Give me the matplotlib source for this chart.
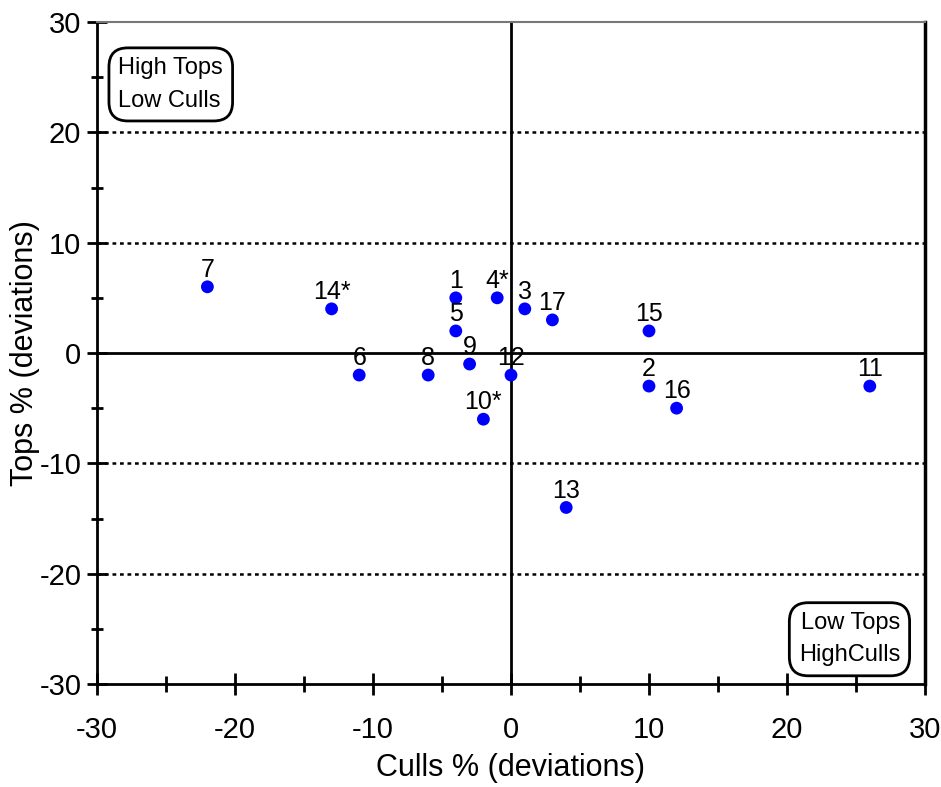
import matplotlib
matplotlib.use("Agg")
from matplotlib import pyplot as plt
from matplotlib.ticker import MultipleLocator

plt.rcParams['font.family'] = ['Liberation Sans', 'DejaVu Sans']
plt.rcParams['axes.unicode_minus'] = False

# Data
labels = ["1", "2", "3", "4*", "5", "6", "7", "8", "9", "10*",
          "11", "12", "13", "14*", "15", "16", "17"]
culls = [-4, 10, 1, -1, -4, -11, -22, -6, -3, -2, 26, 0, 4, -13, 10, 12, 3]
tops = [5, -3, 4, 5, 2, -2, 6, -2, -1, -6, -3, -2, -14, 4, 2, -5, 3]
grid_levels = [-20, -10, 10, 20]

fig = plt.figure(figsize=(9.41, 7.87), dpi=100)
ax = fig.add_axes([97 / 941, 1 - 684 / 787, 828 / 941, 662 / 787])

ax.set_xlim(-30, 30)
ax.set_ylim(-30, 30)

# dotted grid lines and zero axes
for g in grid_levels:
    ax.axhline(g, color='black', linestyle=(0, (1.5, 1.5)), linewidth=1.8, zorder=1)
ax.axhline(0, color='black', linewidth=2, zorder=1)
ax.axvline(0, color='black', linewidth=2, zorder=1)

ax.scatter(culls, tops, s=85, color='#0000ff', edgecolors='none', zorder=3)
for lab, x, y in zip(labels, culls, tops):
    ax.annotate(lab, (x, y), xytext=(0, 7), textcoords='offset points',
                ha='center', va='baseline', fontsize=18, zorder=4)

# spines
ax.spines['left'].set_linewidth(2)
ax.spines['bottom'].set_linewidth(2)
ax.spines['right'].set_linewidth(2.5)
ax.spines['top'].set_linewidth(1.5)
ax.spines['top'].set_color('#777777')

ax.xaxis.set_major_locator(MultipleLocator(10))
ax.xaxis.set_minor_locator(MultipleLocator(5))
ax.yaxis.set_major_locator(MultipleLocator(10))
ax.yaxis.set_minor_locator(MultipleLocator(5))
ax.tick_params(which='both', direction='inout', width=2, labelsize=21,
               right=False, top=False)
ax.tick_params(axis='y', which='major', length=14.5, pad=4)
ax.tick_params(axis='y', which='minor', length=8)
ax.tick_params(axis='x', which='major', length=16.5, pad=15)
ax.tick_params(axis='x', which='minor', length=12)

ax.set_xlabel("Culls % (deviations)", fontsize=22, labelpad=6)
ax.set_ylabel("Tops % (deviations)", fontsize=22)
ax.yaxis.set_label_coords(-0.069, 0.5)

box = dict(boxstyle='round,pad=0.4,rounding_size=0.8', facecolor='white',
           edgecolor='black', linewidth=2)
ax.text(-28.45, 26.8, "High Tops\nLow Culls", fontsize=17, ha='left', va='top',
        linespacing=1.6, bbox=box, zorder=5)
ax.text(28.2, -28.4, "Low Tops\nHighCulls", fontsize=17, ha='right', va='bottom',
        linespacing=1.6, bbox=box, zorder=5)

fig.savefig("out.png", dpi=100)
